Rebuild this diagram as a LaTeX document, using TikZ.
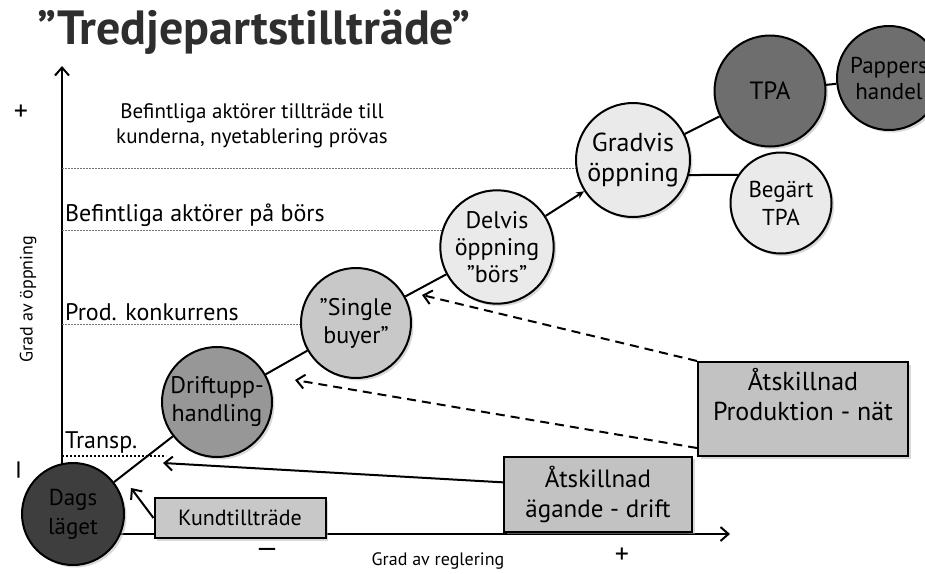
\documentclass[tikz,border=0pt]{standalone}
\usepackage{fontspec}
\setmainfont{PT Sans}
\usetikzlibrary{arrows.meta,shadows,positioning}

\definecolor{morkgra}{HTML}{3E3E3E}
\definecolor{tpagra}{HTML}{6E6E6E}
\definecolor{mellangra}{HTML}{979797}
\definecolor{ljusgra}{HTML}{C8C8C8}
\definecolor{blekgra}{HTML}{EAEAEA}
\definecolor{rutgra}{HTML}{C2C2C2}

\begin{document}
\begin{tikzpicture}[x=1pt, y=-1pt, >={Straight Barb[length=8pt, width=14pt]},
  skugga/.style={drop shadow={shadow xshift=2.5pt, shadow yshift=-2.5pt, fill=black!30}},
  fas/.style={circle, draw, line width=2pt, inner sep=1pt, align=center,
    font=\fontsize{24}{28}\selectfont, skugga},
  ruta/.style={draw, line width=2pt, fill=rutgra, align=center,
    font=\fontsize{25}{30}\selectfont, skugga},
  niva/.style={dash pattern=on 2pt off 1pt, black!55, line width=0.6pt},
  nivatext/.style={anchor=south west, inner sep=1pt, font=\fontsize{24}{28}\selectfont},
  tecken/.style={inner sep=0pt, font=\fontsize{28}{28}\selectfont},
  koppling/.style={line width=2pt},
  streckpil/.style={line width=2pt, dash pattern=on 9pt off 6pt}]

\useasboundingbox (0,0) rectangle (925,573);
\clip (0,0) rectangle (925,573);

% Rubrik
\node[anchor=west, inner sep=0pt, font=\bfseries\fontsize{48}{52}\selectfont, text=black!82] (rubrik) at (37,32) {”Tredjepartstillträde”};

% Axlar
\coordinate (origo) at (62,534);
\coordinate (ytopp) at (62,66);
\coordinate (xslut) at (730,534);
\draw[line width=2pt, ->] (origo) -- (ytopp);
\draw[line width=2pt, ->] (origo) -- (xslut);

\node[tecken] (yplus) at (21,113) {+};
\node[tecken, rotate=90] (yminus) at (22,470) {—};
\node[tecken] (xminus) at (267,553) {—};
\node[tecken] (xplus) at (622,556) {+};
\node[rotate=90, font=\fontsize{18}{20}\selectfont] (yaxeltext) at (28,299) {Grad av öppning};
\node[font=\fontsize{18}{20}\selectfont] (xaxeltext) at (438,561) {Grad av reglering};

% Nivåer
\draw[niva] (62,168) -- (577,168);
\draw[niva] (62,230) -- (445,230);
\draw[niva] (62,324) -- (302,324);
\draw[line width=2pt, dotted] (62,456) -- (166,456);

\node[align=center, font=\fontsize{21}{25}\selectfont] (niva1) at (252,126) {Befintliga aktörer tillträde till\\kunderna, nyetablering prövas};
\node[nivatext] (niva2) at (64,228) {Befintliga aktörer på börs};
\node[nivatext] (niva3) at (64,322) {Prod. konkurrens};
\node[nivatext] (niva4) at (64,454) {Transp.};

% Faser
\node[fas, fill=morkgra, minimum size=102pt, font=\fontsize{23}{29}\selectfont] (dags) at (73,514) {Dags\\läget};
\node[fas, fill=mellangra, minimum size=110pt] (drift) at (217,402) {Driftupp-\\handling};
\node[fas, fill=ljusgra, minimum size=110pt] (single) at (356,323) {”Single\\buyer”};
\node[fas, fill=blekgra, minimum size=110pt, font=\fontsize{24}{27}\selectfont] (delvis) at (497,247) {Delvis\\öppning\\”börs”};
\node[fas, fill=blekgra, minimum size=114pt, font=\fontsize{26}{30}\selectfont] (gradvis) at (633,160) {Gradvis\\öppning};
\node[fas, fill=blekgra, minimum size=101pt, font=\fontsize{23}{28}\selectfont] (begart) at (781,203) {Begärt\\TPA};
\node[fas, fill=tpagra, minimum size=111pt, font=\fontsize{25}{28}\selectfont] (tpa) at (770,91) {TPA};
\node[fas, fill=tpagra, minimum size=104pt, font=\fontsize{23}{26}\selectfont] (pappers) at (889,78) {Pappers\\handel};

\draw[koppling] (dags) -- (drift);
\draw[koppling] (drift) -- (single);
\draw[koppling] (single) -- (delvis);
\draw[koppling, -{Stealth[length=8pt, width=7pt]}] (delvis) -- (gradvis);
\draw[koppling] (gradvis) -- (tpa);
\draw[koppling] (tpa) -- (pappers);
\draw[koppling] (gradvis.-15) -- (begart.147);

% Rutor
\node[ruta, minimum width=210pt, minimum height=94pt] (prodnat) at (803,409) {};
\node[align=center, font=\fontsize{26}{30}\selectfont, below=4pt of prodnat.north] (prodnattext) {Åtskillnad\\Produktion - nät};
\node[ruta, minimum width=188pt, minimum height=75pt] (agande) at (598,494) {Åtskillnad\\ägande - drift};
\node[ruta, fill=ljusgra, minimum width=171pt, minimum height=40pt, font=\fontsize{22}{26}\selectfont] (kund) at (240,518) {Kundtillträde};

\coordinate (mal1) at (422,295);
\coordinate (mal2) at (295,380);
\coordinate (mal3) at (163,463);
\coordinate (mal4) at (131,488);
\draw[streckpil, ->] (prodnat.north west) -- (mal1);
\draw[streckpil, ->] (prodnat.south west) ++(0,-9) -- (mal2);
\draw[koppling, ->] (agande.173) -- (mal3);
\draw[koppling, ->] (kund.west) -- (mal4);

\end{tikzpicture}
\end{document}
